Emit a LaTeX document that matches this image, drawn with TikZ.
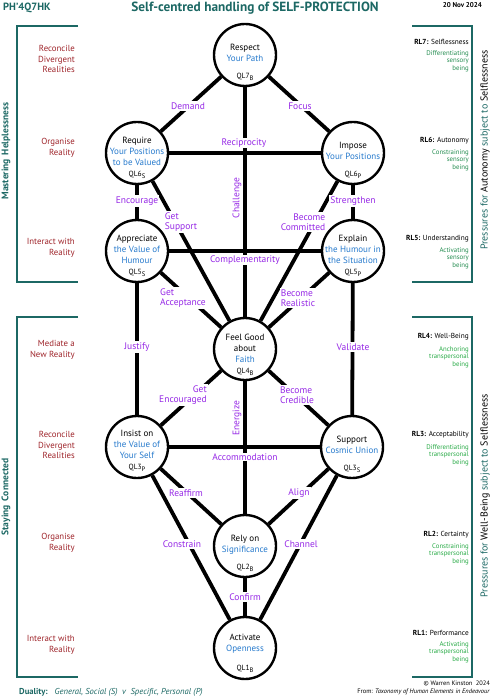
\documentclass[tikz,border=0pt]{standalone}
\usepackage{fontspec}
\setmainfont{PT Sans}
\definecolor{tealc}{RGB}{28,104,100}
\definecolor{redc}{RGB}{158,36,42}
\definecolor{bluc}{RGB}{38,122,205}
\definecolor{purc}{RGB}{150,40,230}
\definecolor{dgrn}{RGB}{36,140,80}
\definecolor{bgrn}{RGB}{40,170,70}
\newcommand\qlab[2]{QL#1\raisebox{-1.8pt}{\fontsize{6.5}{6.5}\selectfont #2}}
\newcommand\fs[2]{\fontsize{#1}{#2}\selectfont}
\tikzset{
  qcirc/.style={circle, draw, line width=2.4pt, fill=white, minimum size=62pt, inner sep=0pt},
  link/.style={line width=3.8pt},
  ntext/.style={font=\fs{9}{11}, align=center, inner sep=0pt},
  qtext/.style={font=\fs{7.5}{8}, inner sep=0pt},
  elab/.style={text=purc, font=\fs{9.5}{10.5}, fill=white, inner sep=1.2pt, align=center},
  slab/.style={text=purc, font=\fs{9.5}{10.5}, fill=white, inner sep=1pt},
  redtxt/.style={text=redc, font=\fs{8.8}{10.8}, align=right, anchor=east, inner sep=0pt},
  rltxt/.style={font=\fs{7.3}{8}, anchor=east, inner sep=0pt},
  grtxt/.style={font=\fs{6.8}{7.6}, align=right, anchor=east, inner sep=0pt},
  bracket/.style={draw=tealc, line width=1.8pt},
  sidetxt/.style={text=tealc, rotate=90, inner sep=0pt}
}
\begin{document}
\begin{tikzpicture}[x={(1pt,0)}, y={(0,-1pt)}]
\useasboundingbox (0,0) rectangle (492,700);

% header
\node[text=tealc, font=\bfseries\fs{10.5}{11}, anchor=west, inner sep=0pt] (code) at (3,8) {PH’4Q7HK};
\node[text=tealc, font=\bfseries\fs{13.3}{14}, inner sep=0pt] (title) at (255,8) {Self-centred handling of SELF-PROTECTION};
\node[font=\bfseries\fs{7}{7}, anchor=east, inner sep=0pt] (date) at (482,5) {20 Nov 2024};

% brackets
\draw[bracket] (78,26) -- (17,26) -- (17,282) -- (78,282);
\draw[bracket] (78,317) -- (17,317) -- (17,677) -- (78,677);
\draw[bracket] (412,26) -- (472,26) -- (472,282) -- (412,282);
\draw[bracket] (412,317) -- (472,317) -- (472,677) -- (412,677);

\node[sidetxt, font=\bfseries\fs{9.5}{11}] (mh) at (6,151) {Mastering\,\ Helplessness};
\node[sidetxt, font=\bfseries\fs{9.5}{11}] (sc) at (6,497) {Staying\,\ Connected};
\node[sidetxt, font=\fs{10}{11}] (pa) at (485,150) {Pressures for \textcolor{black}{Autonomy} subject to \textcolor{black}{Selflessness}};
\node[sidetxt, font=\fs{10}{11}] (pw) at (485,496) {Pressures for \textcolor{black}{Well-Being} subject to \textcolor{black}{Selflessness}};

% left red texts
\node[redtxt] (l7) at (75,59) {Reconcile\\Divergent\\Realities};
\node[redtxt] (l6) at (75,148) {Organise\\Reality};
\node[redtxt] (l5) at (75,248) {Interact with\\Reality};
\node[redtxt] (l4) at (75,350) {Mediate a\\New Reality};
\node[redtxt] (l3) at (75,445) {Reconcile\\Divergent\\Realities};
\node[redtxt] (l2) at (75,543) {Organise\\Reality};
\node[redtxt] (l1) at (75,645) {Interact with\\Reality};

% right RL texts
\node[rltxt] (r7) at (469,42) {\textbf{RL7:} Selflessness};
\node[grtxt, text=dgrn] (g7) at (469,61) {Differentiating\\sensory\\being};
\node[rltxt] (r6) at (469,141) {\textbf{RL6:} Autonomy};
\node[grtxt, text=dgrn] (g6) at (469,160) {Constraining\\sensory\\being};
\node[rltxt] (r5) at (469,239) {\textbf{RL5:} Understanding};
\node[grtxt, text=dgrn] (g5) at (469,258) {Activating\\sensory\\being};
\node[rltxt] (r4) at (469,337) {\textbf{RL4:} Well-Being};
\node[grtxt, text=bgrn] (g4) at (469,357) {Anchoring\\transpersonal\\being};
\node[rltxt] (r3) at (469,435) {\textbf{RL3:} Acceptability};
\node[grtxt, text=bgrn] (g3) at (469,455) {Differentiating\\transpersonal\\being};
\node[rltxt] (r2) at (469,535) {\textbf{RL2:} Certainty};
\node[grtxt, text=bgrn] (g2) at (469,554) {Constraining\\transpersonal\\being};
\node[rltxt] (r1) at (469,633) {\textbf{RL1:} Performance};
\node[grtxt, text=bgrn] (g1) at (469,652) {Activating\\transpersonal\\being};

% circles
\node[qcirc] (n7) at (245,55) {};
\node[qcirc] (n6s) at (137,153) {};
\node[qcirc] (n6p) at (353,153) {};
\node[qcirc] (n5s) at (137,251) {};
\node[qcirc] (n5p) at (353,251) {};
\node[qcirc] (n4) at (245,349) {};
\node[qcirc] (n3p) at (137,447) {};
\node[qcirc] (n3s) at (352,447) {};
\node[qcirc] (n2) at (245,546) {};
\node[qcirc] (n1) at (245,648) {};

% connectors
\draw[link] (n7) -- (n6s);
\draw[link] (n7) -- (n6p);
\draw[link] (n7) -- (n4);
\draw[link] (n6s) -- (n6p);
\draw[link] (n5s) -- (n5p);
\draw[link] (n6s) -- (n5s);
\draw[link] (n6p) -- (n5p);
\draw[link] (n6s) -- (n4);
\draw[link] (n6p) -- (n4);
\draw[link] (n5s) -- (n4);
\draw[link] (n5p) -- (n4);
\draw[link] (n5s) -- (n3p);
\draw[link] (n5p) -- (n3s);
\draw[link] (n4) -- (n3p);
\draw[link] (n4) -- (n3s);
\draw[link] (n4) -- (n2);
\draw[link] (n3p) -- (n3s);
\draw[link] (n3p) -- (n2);
\draw[link] (n3s) -- (n2);
\draw[link] (n3p) -- (n1);
\draw[link] (n3s) -- (n1);
\draw[link] (n2) -- (n1);

% connector labels
\node[elab] (eDemand) at (188,106) {Demand};
\node[elab] (eFocus) at (300,106) {Focus};
\node[slab] (eRecip) at (244,143) {Reciprocity};
\node[slab, rotate=90, inner sep=0.3pt] (eChall) at (237,198) {Challenge};
\node[elab] (eEnc) at (137,201) {Encourage};
\node[elab] (eStr) at (353,201) {Strengthen};
\node[elab, align=left] (eGS) at (181,222) {Get\\Support};
\node[elab, align=right] (eBC) at (303,222) {Become\\Committed};
\node[slab] (eComp) at (245,260) {Complementarity};
\node[elab, align=left] (eGA) at (183,298) {Get\\Acceptance};
\node[elab, align=left] (eBR) at (298,298) {Become\\Realistic};
\node[elab] (eJus) at (137,347) {Justify};
\node[elab] (eVal) at (353,347) {Validate};
\node[elab, align=right] (eGE) at (183,395) {Get\\Encouraged};
\node[elab, align=left] (eBCr) at (297,395) {Become\\Credible};
\node[slab, rotate=90, inner sep=0.3pt] (eEn) at (237,418) {Energize};
\node[slab] (eAcc) at (245,457) {Accommodation};
\node[elab] (eRe) at (186,493) {Reaffirm};
\node[elab] (eAl) at (299,493) {Align};
\node[elab] (eCo) at (182,544) {Constrain};
\node[elab] (eCh) at (301,544) {Channel};
\node[elab] (eCf) at (245,597) {Confirm};

% circle texts
\node[ntext] (t7) at ([yshift=2pt]n7.center) {Respect\\\textcolor{bluc}{Your Path}};
\node[qtext] (q7) at ([yshift=-22pt]n7.center) {\qlab{7}{B}};
\node[ntext] (t6s) at ([yshift=2pt]n6s.center) {Require\\\textcolor{bluc}{Your Positions}\\\textcolor{bluc}{to be Valued}};
\node[qtext] (q6s) at ([yshift=-22pt]n6s.center) {\qlab{6}{S}};
\node[ntext] (t6p) at ([yshift=2pt]n6p.center) {Impose\\\textcolor{bluc}{Your Positions}};
\node[qtext] (q6p) at ([yshift=-22pt]n6p.center) {\qlab{6}{P}};
\node[ntext] (t5s) at ([yshift=2pt]n5s.center) {Appreciate\\\textcolor{bluc}{the Value of}\\\textcolor{bluc}{Humour}};
\node[qtext] (q5s) at ([yshift=-22pt]n5s.center) {\qlab{5}{S}};
\node[ntext] (t5p) at ([yshift=2pt]n5p.center) {Explain\\\textcolor{bluc}{the Humour in}\\\textcolor{bluc}{the Situation}};
\node[qtext] (q5p) at ([yshift=-22pt]n5p.center) {\qlab{5}{P}};
\node[ntext] (t4) at ([yshift=1pt]n4.center) {Feel Good\\about\\\textcolor{bluc}{Faith}};
\node[qtext] (q4) at ([yshift=-23pt]n4.center) {\qlab{4}{B}};
\node[ntext] (t3p) at ([yshift=3pt]n3p.center) {Insist on\\\textcolor{bluc}{the Value of}\\\textcolor{bluc}{Your Self}};
\node[qtext] (q3p) at ([yshift=-21pt]n3p.center) {\qlab{3}{P}};
\node[ntext] (t3s) at ([yshift=2pt]n3s.center) {Support\\\textcolor{bluc}{Cosmic Union}};
\node[qtext] (q3s) at ([yshift=-22pt]n3s.center) {\qlab{3}{S}};
\node[ntext] (t2) at ([yshift=1pt]n2.center) {Rely on\\\textcolor{bluc}{Significance}};
\node[qtext] (q2) at ([yshift=-22pt]n2.center) {\qlab{2}{B}};
\node[ntext] (t1) at ([yshift=4pt]n1.center) {Activate\\\textcolor{bluc}{Openness}};
\node[qtext] (q1) at ([yshift=-21pt]n1.center) {\qlab{1}{B}};

% footer
\node[text=tealc, font=\fs{8.6}{9}, anchor=west, inner sep=0pt] (dual) at (19,692) {\textbf{Duality:}\ \ \ \textit{General, Social (S)\ \ v\ \ Specific, Personal (P)}};
\node[font=\fs{6.4}{7}, anchor=east, inner sep=0pt] (copy) at (490,683) {© Warren Kinston\ \ 2024};
\node[font=\fs{6.4}{7}, anchor=east, inner sep=0pt] (from) at (490,692) {From: \textit{Taxonomy of Human Elements in Endeavour}};
\end{tikzpicture}
\end{document}
